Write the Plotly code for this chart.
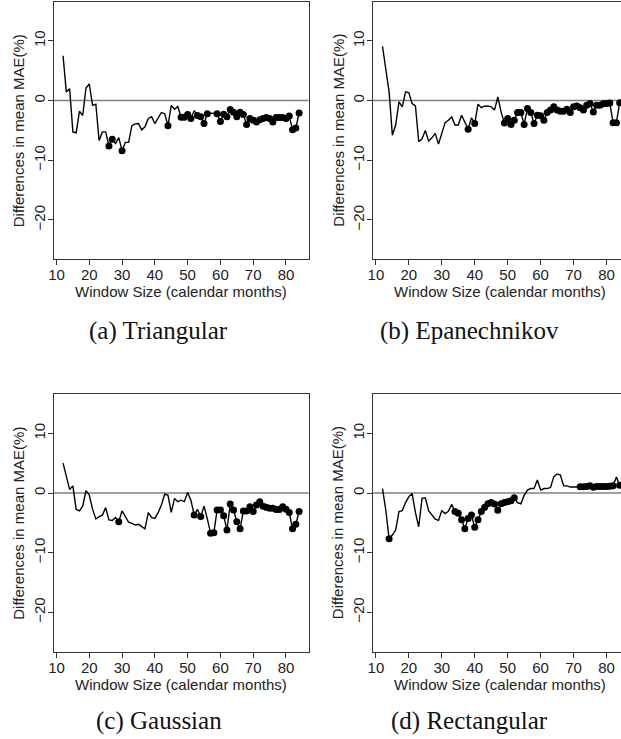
import plotly.graph_objects as go

# ---------------- data ----------------
window_sizes = list(range(12, 85))

triangular = [7.5, 1.45, 2.0, -5.25, -5.4, -1.8, -2.5, 2.1, 2.8, -0.8,
              -0.6, -6.7, -5.25, -5.25, -7.6, -6.5, -7.2, -6.2, -8.4, -7.0,
              -7.0, -4.2, -3.9, -3.85, -4.9, -4.4, -3.0, -2.7, -3.85, -2.85,
              -2.0, -2.2, -4.2, -0.8, -1.45, -1.0, -2.8, -2.8, -2.35, -3.0,
              -1.7, -2.5, -2.7, -3.85, -2.2, -2.1, -2.1, -2.2, -3.5, -2.3,
              -2.7, -1.5, -1.95, -2.7, -1.95, -2.35, -4.0, -3.0, -3.3, -3.6,
              -3.2, -3.0, -2.85, -3.0, -3.6, -2.85, -2.85, -2.85, -3.0, -2.6,
              -4.9, -4.6, -2.1]
triangular_sig = [26, 27, 30, 44, 48, 49, 50, 51, 53, 54, 55, 56] + list(range(59, 85))

epanechnikov = [9.1, 5.3, 1.45, -5.8, -4.1, -0.2, -1.05, 1.45, 1.3, -0.5,
                -0.9, -6.9, -6.4, -5.0, -6.8, -6.25, -5.5, -7.3, -5.5, -3.7,
                -3.3, -2.75, -4.1, -4.1, -2.45, -3.7, -4.8, -2.9, -3.85, -0.6,
                -1.2, -0.95, -0.9, -1.05, -1.6, 0.6, -1.9, -3.75, -3.0, -4.0,
                -3.3, -2.0, -2.0, -4.0, -1.35, -2.0, -3.85, -2.45, -2.55, -3.3,
                -2.0, -1.6, -1.05, -1.6, -1.8, -1.8, -1.45, -2.0, -1.05, -0.9,
                -1.2, -1.6, -0.8, -0.5, -1.9, -0.8, -0.8, -0.55, -0.5, -0.4,
                -3.7, -3.7, -0.35]
epanechnikov_sig = [38, 40] + list(range(49, 85))

gaussian = [5.0, 2.75, 0.6, 1.2, -2.75, -3.0, -2.2, 0.4, -0.35, -2.7,
            -4.35, -3.95, -3.7, -2.45, -4.5, -4.6, -4.1, -4.8, -3.0, -3.95,
            -4.9, -5.1, -5.35, -5.25, -5.65, -6.0, -3.3, -4.1, -4.25, -3.3,
            -2.0, -0.2, -0.35, -3.25, -0.9, -1.45, -1.2, -1.45, 0.1, -1.2,
            -3.7, -2.75, -3.95, -2.2, -4.3, -6.75, -6.65, -2.85, -2.85, -3.8,
            -6.2, -1.85, -2.85, -4.8, -6.0, -3.0, -3.0, -2.3, -3.1, -2.0,
            -1.45, -2.2, -2.4, -2.55, -2.55, -2.75, -2.75, -2.3, -2.7, -3.25,
            -6.0, -5.25, -3.1]
gaussian_sig = [29, 52, 54] + list(range(57, 85))

rectangular = [0.75, -2.85, -7.65, -7.05, -6.2, -3.1, -2.95, -1.6, -0.6, -0.1,
               -3.3, -5.65, -0.9, -0.8, -2.95, -3.7, -4.4, -4.6, -2.95, -3.45,
               -3.05, -1.9, -3.1, -3.4, -4.5, -6.0, -4.25, -3.7, -5.75, -4.5,
               -3.1, -2.4, -1.8, -1.6, -1.85, -2.9, -1.8, -1.6, -1.45, -1.3,
               -0.8, -1.6, -1.8, -0.4, 0.5, 0.75, 0.75, 2.2, 0.5, 0.75,
               0.75, 0.95, 2.75, 3.2, 3.0, 1.2, 1.2, 1.0, 1.0, 1.0,
               1.05, 1.05, 1.1, 1.2, 0.95, 1.1, 1.1, 1.1, 1.1, 1.15,
               1.2, 2.7, 1.3]
rectangular_sig = [14] + list(range(34, 53)) + list(range(72, 83)) + [84]

panels = [
    ("(a) Triangular", triangular, triangular_sig),
    ("(b) Epanechnikov", epanechnikov, epanechnikov_sig),
    ("(c) Gaussian", gaussian, gaussian_sig),
    ("(d) Rectangular", rectangular, rectangular_sig),
]

x_ticks = [10, 20, 30, 40, 50, 60, 70, 80]
y_ticks = [-20, -10, 0, 10]
x_title = "Window Size (calendar months)"
y_title = "Differences in mean MAE(%)"

# ---------------- layout geometry (pixels) ----------------
W, H = 621, 739
# left, right, top, bottom of each plotting box; x-range; full box?
boxes = [
    (49, 306, 1.5, 259.3, [9.12, 86.88], True),
    (371, 621, 1.5, 259.3, [9.12, 84.4], False),
    (49, 306, 394, 651.7, [9.12, 86.88], True),
    (371, 621, 394, 651.7, [9.12, 84.4], False),
]
caption_pos = [(155, 331), (468, 331), (155, 721), (468, 721)]
xtitle_y = [291, 291, 684, 684]
ytitle_x = [14, 336, 14, 336]

SANS = "Liberation Sans, Arial, sans-serif"
SERIF = "Liberation Serif, Times New Roman, serif"
AX = "#333333"

fig = go.Figure()
layout = dict(
    width=W, height=H,
    margin=dict(l=0, r=0, t=0, b=0),
    paper_bgcolor="white", plot_bgcolor="white",
    showlegend=False,
    annotations=[], shapes=[],
)

def px_x(p):
    return p / W

def px_y(p):
    return 1 - p / H

for i, ((cap, vals, sig), (l, r, t, b, xr, full)) in enumerate(zip(panels, boxes)):
    n = "" if i == 0 else str(i + 1)
    xa, ya = "x" + n, "y" + n
    fig.add_trace(go.Scatter(
        x=window_sizes, y=vals, mode="lines",
        line=dict(color="black", width=1.4),
        xaxis=xa, yaxis=ya, hoverinfo="skip"))
    sx = [w for w in window_sizes if w in sig]
    sy = [v for w, v in zip(window_sizes, vals) if w in sig]
    fig.add_trace(go.Scatter(
        x=sx, y=sy, mode="markers",
        marker=dict(color="black", size=7, line=dict(width=0)),
        xaxis=xa, yaxis=ya, hoverinfo="skip"))

    common = dict(
        showline=True, linecolor=AX, linewidth=1,
        ticks="outside", ticklen=5, tickwidth=1, tickcolor=AX,
        showgrid=False, zeroline=False,
        tickfont=dict(family=SANS, size=15, color="#222222"),
        ticklabelstandoff=-3,
    )
    layout["xaxis" + n] = dict(
        common, domain=[px_x(l), px_x(r)], range=xr, anchor=ya,
        tickvals=x_ticks, mirror=True, fixedrange=True)
    layout["yaxis" + n] = dict(
        common, domain=[px_y(b), px_y(t)], range=[-26.6, 16.6], anchor=xa,
        tickvals=y_ticks, tickangle=-90, mirror=full, fixedrange=True)

    # reference line at zero
    layout["shapes"].append(dict(
        type="line", xref=xa + " domain", yref=ya,
        x0=0, x1=1, y0=0, y1=0,
        line=dict(color="#7f7f7f", width=1.6), layer="below"))

    full_right = l + 257
    layout["annotations"].append(dict(
        text=x_title, xref="paper", yref="paper",
        x=px_x((l + full_right) / 2),
        y=px_y(xtitle_y[i]), xanchor="center", yanchor="middle",
        showarrow=False, font=dict(family=SANS, size=15, color="#222222")))
    layout["annotations"].append(dict(
        text=y_title, xref="paper", yref="paper",
        x=px_x(ytitle_x[i]), y=px_y((t + b) / 2),
        xanchor="center", yanchor="middle", textangle=-90,
        showarrow=False, font=dict(family=SANS, size=15, color="#222222")))
    cx, cy = caption_pos[i]
    layout["annotations"].append(dict(
        text=cap, xref="paper", yref="paper",
        x=px_x(cx), y=px_y(cy), xanchor="center", yanchor="middle",
        showarrow=False, font=dict(family=SERIF, size=25, color="#111111")))

fig.update_layout(**layout)
fig.write_html(
    "out.html",
    config={"displayModeBar": False, "staticPlot": True},
    post_script="document.body.style.margin='0px';"
                "document.body.style.padding='0px';"
                "document.body.style.overflow='hidden';",
)
